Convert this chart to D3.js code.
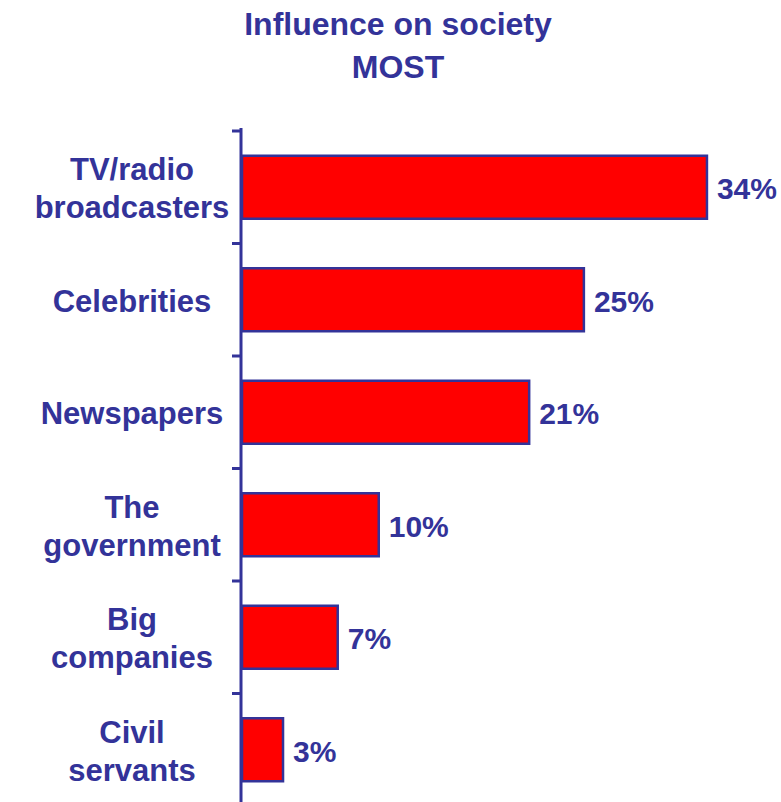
<!DOCTYPE html>
<html>
<head>
<meta charset="utf-8">
<script src="https://cdn.jsdelivr.net/npm/d3@7"></script>
<style>
  html, body { margin: 0; padding: 0; background: #fff; }
  svg { display: block; font-family: "Liberation Sans", Arial, sans-serif; font-weight: bold; }
</style>
</head>
<body>
<svg id="chart" width="781" height="802"></svg>
<script>
// Influence on society — share naming each institution as MOST influential
const titleLines = ["Influence on society", "MOST"];
const categories = [
  "TV/radio\nbroadcasters",
  "Celebrities",
  "Newspapers",
  "The\ngovernment",
  "Big\ncompanies",
  "Civil\nservants"
];
const values = [34, 25, 21, 10, 7, 3];

const data = categories.map((c, i) => ({ category: c, value: values[i] }));

const ink = "#333399";
const barFill = "#ff0000";

const svg = d3.select("#chart");

const axisX = 241;
const y = d3.scaleBand()
  .domain(categories)
  .range([131, 806])
  .paddingInner(0.44)
  .paddingOuter(0.22);

const x = d3.scaleLinear()
  .domain([0, 40])
  .range([axisX + 1, axisX + 1 + 547]);

// Title
svg.append("g")
  .selectAll("text")
  .data(titleLines)
  .join("text")
  .attr("x", 398)
  .attr("y", (d, i) => 35 + i * 43)
  .attr("text-anchor", "middle")
  .attr("font-size", 32)
  .attr("fill", ink)
  .text(d => d);

// Category axis: vertical line with ticks on band boundaries
const bandEdges = d3.range(categories.length + 1).map(i => 131 + i * y.step());
svg.append("line")
  .attr("x1", axisX).attr("x2", axisX)
  .attr("y1", 128).attr("y2", 806)
  .attr("stroke", ink).attr("stroke-width", 3);
svg.append("g")
  .selectAll("line")
  .data(bandEdges)
  .join("line")
  .attr("x1", axisX - 9).attr("x2", axisX)
  .attr("y1", d => d).attr("y2", d => d)
  .attr("stroke", ink).attr("stroke-width", 3);

// Bars
svg.append("g")
  .selectAll("rect")
  .data(data)
  .join("rect")
  .attr("x", x(0))
  .attr("y", d => y(d.category))
  .attr("width", d => x(d.value) - x(0))
  .attr("height", y.bandwidth())
  .attr("fill", barFill)
  .attr("stroke", ink)
  .attr("stroke-width", 2.5);

// Value labels
svg.append("g")
  .selectAll("text")
  .data(data)
  .join("text")
  .attr("x", d => x(d.value) + 10)
  .attr("y", d => y(d.category) + y.bandwidth() / 2 + 12)
  .attr("font-size", 30)
  .attr("fill", ink)
  .text(d => d.value + "%");

// Category labels (one or two lines, centred on the band)
const catG = svg.append("g")
  .selectAll("text")
  .data(data)
  .join("text")
  .attr("text-anchor", "middle")
  .attr("font-size", 31)
  .attr("fill", ink);

catG.each(function(d) {
  const lines = d.category.split("\n");
  const cy = y(d.category) + y.bandwidth() / 2;
  const lh = 38;
  const first = cy + 12 - (lines.length - 1) * lh / 2;
  d3.select(this).selectAll("tspan")
    .data(lines)
    .join("tspan")
    .attr("x", 132)
    .attr("y", (l, i) => first + i * lh)
    .text(l => l);
});
</script>
</body>
</html>
